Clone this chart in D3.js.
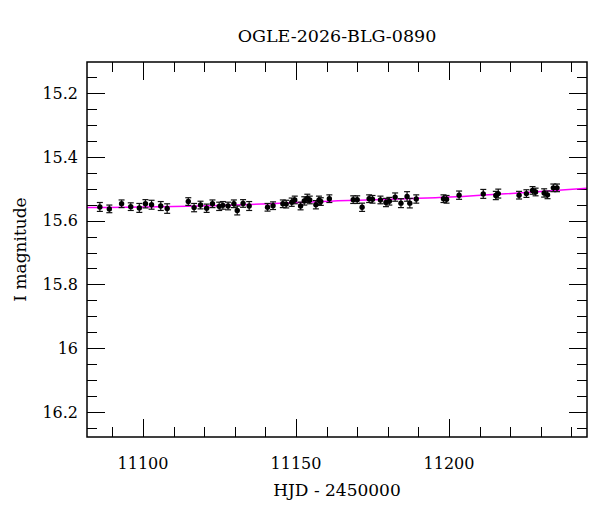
<!DOCTYPE html>
<html>
<head>
<meta charset="utf-8">
<script src="https://cdn.jsdelivr.net/npm/d3@7"></script>
<style>
  body { margin: 0; background: #fff; }
  text { font-family: "DejaVu Serif", serif; fill: #000; }
</style>
</head>
<body>
<div id="chart"></div>
<script>
// photometry (HJD - 2450000, I mag)
const hjd = [
  11085.9, 11089.0, 11093.0, 11096.0, 11098.8, 11100.8, 11102.8, 11105.8, 11107.9,
  11114.8, 11116.7, 11118.8, 11120.8, 11122.7, 11124.9, 11126.1, 11127.8, 11129.7,
  11130.8, 11132.7, 11134.7, 11140.7, 11142.5, 11145.7, 11146.8, 11148.6, 11149.6,
  11151.5, 11152.7, 11153.7, 11154.5, 11156.5, 11157.5, 11158.1, 11160.9, 11168.7,
  11170.0, 11171.6, 11173.9, 11175.0, 11177.6, 11179.4, 11180.5, 11182.4, 11184.3,
  11186.3, 11187.2, 11189.3, 11198.2, 11199.2, 11203.3, 11211.2, 11215.3, 11216.1,
  11222.9, 11225.3, 11227.3, 11228.3, 11231.1, 11232.2, 11234.1, 11235.3
];
const mag = [
  15.557, 15.563, 15.547, 15.556, 15.560, 15.547, 15.550, 15.554, 15.562,
  15.540, 15.559, 15.551, 15.561, 15.547, 15.555, 15.552, 15.554, 15.547,
  15.568, 15.546, 15.554, 15.558, 15.553, 15.547, 15.548, 15.542, 15.535,
  15.554, 15.538, 15.530, 15.535, 15.550, 15.536, 15.540, 15.531, 15.534,
  15.534, 15.558, 15.531, 15.533, 15.535, 15.543, 15.539, 15.526, 15.545,
  15.524, 15.545, 15.532, 15.531, 15.533, 15.520, 15.516, 15.521, 15.515,
  15.520, 15.515, 15.505, 15.510, 15.513, 15.519, 15.497, 15.497
];
const magErr = [
  0.014, 0.012, 0.012, 0.012, 0.014, 0.013, 0.014, 0.014, 0.015,
  0.012, 0.013, 0.012, 0.013, 0.012, 0.013, 0.012, 0.012, 0.012,
  0.014, 0.012, 0.014, 0.012, 0.012, 0.012, 0.012, 0.013, 0.012,
  0.012, 0.013, 0.013, 0.012, 0.013, 0.013, 0.012, 0.012, 0.012,
  0.012, 0.013, 0.012, 0.012, 0.012, 0.013, 0.012, 0.013, 0.014,
  0.015, 0.015, 0.013, 0.012, 0.012, 0.013, 0.014, 0.013, 0.014,
  0.012, 0.012, 0.012, 0.012, 0.013, 0.012, 0.012, 0.012
];

// model curve (magenta)
const modelHjd = [11081.7, 11121.9, 11161.1, 11200.3, 11245.1];
const modelMag = [15.559, 15.553, 15.539, 15.526, 15.498];

const xTickLabels = [11100, 11150, 11200];
const yTickLabels = [15.2, 15.4, 15.6, 15.8, 16, 16.2];

const width = 600, height = 512;
const margin = { top: 62, right: 13, bottom: 75, left: 87 };
const xDomain = [11081.7, 11245.1];
const yDomain = [15.102, 16.279];

const svg = d3.select('#chart')
  .append('svg')
    .attr('width', width)
    .attr('height', height);

const x = d3.scaleLinear()
    .domain(xDomain)
    .range([margin.left, width - margin.right]);

const y = d3.scaleLinear()
    .domain(yDomain)
    .range([margin.top, height - margin.bottom]);

const x0 = margin.left, x1 = width - margin.right;
const y0 = margin.top, y1 = height - margin.bottom;

// ticks on all four sides, pointing in
const xMinor = d3.range(11090, 11245, 10);
const yMinor = d3.range(15.15, 16.28, 0.05).map(v => +v.toFixed(2));
const isMajorX = v => xTickLabels.includes(v);
const isMajorY = v => yTickLabels.some(t => Math.abs(t - v) < 1e-6);

const ticks = svg.append('g').attr('stroke', '#000').attr('stroke-width', 1);

xMinor.forEach(v => {
  const len = isMajorX(v) ? 18 : 10;
  const px = Math.round(x(v)) + 0.5;
  ticks.append('line').attr('x1', px).attr('x2', px).attr('y1', y1).attr('y2', y1 - len);
  ticks.append('line').attr('x1', px).attr('x2', px).attr('y1', y0).attr('y2', y0 + len);
});

yMinor.forEach(v => {
  const len = isMajorY(v) ? 18 : 10;
  const py = Math.round(y(v)) + 0.5;
  ticks.append('line').attr('x1', x0).attr('x2', x0 + len).attr('y1', py).attr('y2', py);
  ticks.append('line').attr('x1', x1).attr('x2', x1 - len).attr('y1', py).attr('y2', py);
});

// tick labels
svg.append('g')
  .selectAll('text')
  .data(xTickLabels)
  .join('text')
    .attr('x', d => x(d))
    .attr('y', 469)
    .attr('text-anchor', 'middle')
    .style('font-size', '16px')
    .text(d => d);

svg.append('g')
  .selectAll('text')
  .data(yTickLabels)
  .join('text')
    .attr('x', 78)
    .attr('y', d => y(d))
    .attr('dy', '0.36em')
    .attr('text-anchor', 'end')
    .style('font-size', '16px')
    .text(d => d);

// model line
const line = d3.line()
    .x((d, i) => x(modelHjd[i]))
    .y(d => y(d))
    .curve(d3.curveMonotoneX);

svg.append('path')
    .datum(modelMag)
    .attr('d', line)
    .attr('fill', 'none')
    .attr('stroke', '#ff00ff')
    .attr('stroke-width', 1.5);

// data with error bars
const pts = hjd.map((t, i) => ({ t, m: mag[i], e: magErr[i] }));

const bars = svg.append('g').attr('stroke', '#111').attr('stroke-width', 1.2);
bars.selectAll('line.v')
  .data(pts)
  .join('line')
    .attr('class', 'v')
    .attr('x1', d => x(d.t)).attr('x2', d => x(d.t))
    .attr('y1', d => y(d.m - d.e)).attr('y2', d => y(d.m + d.e));
bars.selectAll('line.top')
  .data(pts)
  .join('line')
    .attr('class', 'top')
    .attr('x1', d => x(d.t) - 3).attr('x2', d => x(d.t) + 3)
    .attr('y1', d => y(d.m - d.e)).attr('y2', d => y(d.m - d.e));
bars.selectAll('line.bot')
  .data(pts)
  .join('line')
    .attr('class', 'bot')
    .attr('x1', d => x(d.t) - 3).attr('x2', d => x(d.t) + 3)
    .attr('y1', d => y(d.m + d.e)).attr('y2', d => y(d.m + d.e));

svg.append('g')
  .selectAll('circle')
  .data(pts)
  .join('circle')
    .attr('cx', d => x(d.t))
    .attr('cy', d => y(d.m))
    .attr('r', 2.7)
    .attr('fill', '#000');

// frame
svg.append('rect')
    .attr('x', x0).attr('y', y0)
    .attr('width', x1 - x0).attr('height', y1 - y0)
    .attr('fill', 'none')
    .attr('stroke', '#000')
    .attr('stroke-width', 1.5);

// titles
svg.append('text')
    .attr('x', (x0 + x1) / 2)
    .attr('y', 42)
    .attr('text-anchor', 'middle')
    .style('font-size', '17.5px')
    .text('OGLE-2026-BLG-0890');

svg.append('text')
    .attr('x', (x0 + x1) / 2)
    .attr('y', 496)
    .attr('text-anchor', 'middle')
    .style('font-size', '17px')
    .text('HJD - 2450000');

svg.append('text')
    .attr('transform', `translate(26,${(y0 + y1) / 2}) rotate(-90)`)
    .attr('text-anchor', 'middle')
    .style('font-size', '17px')
    .text('I magnitude');
</script>
</body>
</html>
